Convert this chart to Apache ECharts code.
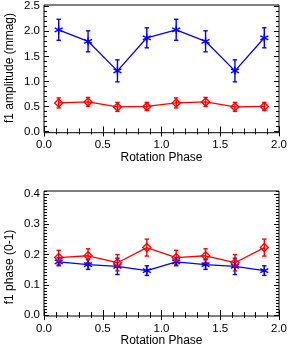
<!DOCTYPE html>
<html><head><meta charset="utf-8">
<script src="https://cdn.jsdelivr.net/npm/echarts@6/dist/echarts.min.js"></script>
<style>html,body{margin:0;padding:0;background:#fff}#c{width:291px;height:351px}</style>
</head><body><div id="c"></div>
<script>
// ---- data ----
const rotPhase = [0.125, 0.375, 0.625, 0.875, 1.125, 1.375, 1.625, 1.875];
const ampBlue = [2.03, 1.80, 1.21, 1.87, 2.03, 1.80, 1.21, 1.87];
const ampBlueErr = [0.21, 0.21, 0.22, 0.20, 0.21, 0.21, 0.22, 0.20];
const ampRed = [0.57, 0.59, 0.49, 0.50, 0.57, 0.59, 0.49, 0.50];
const ampRedErr = [0.10, 0.09, 0.09, 0.08, 0.10, 0.09, 0.09, 0.08];
const phaseRed = [0.190, 0.196, 0.173, 0.223, 0.190, 0.196, 0.173, 0.223];
const phaseRedErr = [0.024, 0.023, 0.027, 0.028, 0.024, 0.023, 0.027, 0.028];
const phaseBlue = [0.176, 0.167, 0.161, 0.147, 0.176, 0.167, 0.161, 0.147];
const phaseBlueErr = [0.013, 0.016, 0.027, 0.016, 0.013, 0.016, 0.027, 0.016];
const ampTicks = [0, 0.5, 1.0, 1.5, 2.0, 2.5];
const phaseTicks = [0, 0.1, 0.2, 0.3, 0.4];

const FONT = 'Liberation Sans, Arial, sans-serif';
const BLUE = '#0000ff', RED = '#ff0000';
const ASTER = 'path://M0 -10 L0 10 M-8.66 -5 L8.66 5 M-8.66 5 L8.66 -5';

function minorVals(lo, hi, step) {
  const out = [];
  const n = Math.round((hi - lo) / step);
  for (let i = 0; i <= n; i++) out.push(+(lo + i * step).toFixed(4));
  return out;
}

function xAxes(grid, margin) {
  const base = {
    type: 'value', gridIndex: grid, min: 0, max: 2, interval: 0.5,
    axisLine: { show: false }, splitLine: { show: false },
    axisTick: { inside: true, length: 5, lineStyle: { color: '#000' } },
    minorTick: { show: true, splitNumber: 5, length: 3, lineStyle: { color: '#000' } }
  };
  return [
    Object.assign({}, base, { position: 'bottom',
      axisLabel: { color: '#000', fontSize: 11.5, fontFamily: FONT, margin: margin,
        formatter: v => v.toFixed(1) } }),
    Object.assign({}, base, { position: 'top', axisLabel: { show: false } })
  ];
}

function yAxes(grid, min, max, majors, minors) {
  const mk = (pos, vals, len, labels) => ({
    type: 'value', gridIndex: grid, min: min, max: max, position: pos,
    axisLine: { show: false }, splitLine: { show: false },
    axisTick: { inside: true, length: len, customValues: vals, lineStyle: { color: '#000' } },
    axisLabel: labels ? { show: true, customValues: vals, color: '#000', fontSize: 11.5,
      fontFamily: FONT, margin: 4, formatter: v => v.toFixed(1) } : { show: false }
  });
  return [mk('left', majors, 5, true), mk('left', minors, 3, false),
          mk('right', majors, 5, false), mk('right', minors, 3, false)];
}

function errSeries(xi, yi, vals, errs, color) {
  return {
    type: 'custom', xAxisIndex: xi, yAxisIndex: yi, z: 3,
    data: rotPhase.map((x, i) => [x, vals[i] - errs[i], vals[i] + errs[i]]),
    encode: { x: 0, y: [1, 2] },
    renderItem: function (params, api) {
      const x = api.value(0);
      const p1 = api.coord([x, api.value(1)]);
      const p2 = api.coord([x, api.value(2)]);
      const w = 2.2, st = { stroke: color, lineWidth: 1.4 };
      return { type: 'group', children: [
        { type: 'line', shape: { x1: p1[0], y1: p1[1], x2: p2[0], y2: p2[1] }, style: st },
        { type: 'line', shape: { x1: p1[0] - w, y1: p1[1], x2: p1[0] + w, y2: p1[1] }, style: st },
        { type: 'line', shape: { x1: p2[0] - w, y1: p2[1], x2: p2[0] + w, y2: p2[1] }, style: st }
      ] };
    }
  };
}

function lineSeries(xi, yi, vals, color, sym, size) {
  return {
    type: 'line', xAxisIndex: xi, yAxisIndex: yi, z: 4,
    data: rotPhase.map((x, i) => [x, vals[i]]),
    symbol: sym, symbolSize: size, showSymbol: true,
    lineStyle: { color: color, width: 1.3 },
    itemStyle: { color: 'rgba(0,0,0,0)', borderColor: color, borderWidth: 1.4 }
  };
}

const chart = echarts.init(document.getElementById('c'), null, { renderer: 'canvas' });
chart.setOption({
  animation: false,
  backgroundColor: '#fff',
  grid: [
    { left: 44, right: 12, top: 5, height: 127.7, show: true, borderColor: '#000', borderWidth: 1, backgroundColor: 'transparent' },
    { left: 44, right: 12, top: 191, height: 125, show: true, borderColor: '#000', borderWidth: 1, backgroundColor: 'transparent' }
  ],
  xAxis: xAxes(0, 6).concat(xAxes(1, 7)),
  yAxis: yAxes(0, -0.025, 2.525, ampTicks, minorVals(0, 2.5, 0.1))
    .concat(yAxes(1, -0.003, 0.41, phaseTicks, minorVals(0, 0.41, 0.01))),
  series: [
    errSeries(0, 0, ampBlue, ampBlueErr, BLUE),
    errSeries(0, 0, ampRed, ampRedErr, RED),
    lineSeries(0, 0, ampBlue, BLUE, ASTER, 8),
    lineSeries(0, 0, ampRed, RED, 'diamond', 8),
    errSeries(2, 4, phaseBlue, phaseBlueErr, BLUE),
    errSeries(2, 4, phaseRed, phaseRedErr, RED),
    lineSeries(2, 4, phaseBlue, BLUE, ASTER, 8),
    lineSeries(2, 4, phaseRed, RED, 'diamond', 8)
  ],
  graphic: [
    { type: 'text', x: 10, y: 68, rotation: Math.PI / 2,
      style: { text: 'f1 amplitude (mmag)', fill: '#000', font: '12px ' + FONT, align: 'center', verticalAlign: 'middle' } },
    { type: 'text', x: 10, y: 267, rotation: Math.PI / 2,
      style: { text: 'f1 phase (0-1)', fill: '#000', font: '12px ' + FONT, align: 'center', verticalAlign: 'middle' } },
    { type: 'text', x: 161.5, y: 157.5, 
      style: { text: 'Rotation Phase', fill: '#000', font: '12px ' + FONT, align: 'center', verticalAlign: 'middle' } },
    { type: 'text', x: 161.5, y: 341,
      style: { text: 'Rotation Phase', fill: '#000', font: '12px ' + FONT, align: 'center', verticalAlign: 'middle' } }
  ]
});
</script></body></html>
